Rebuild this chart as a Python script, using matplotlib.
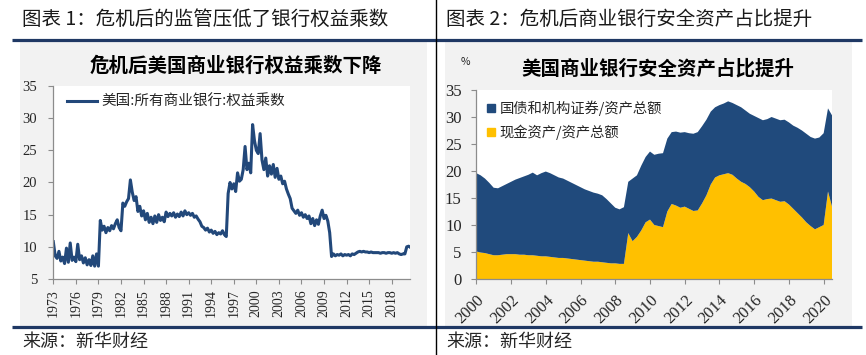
import numpy as np
import matplotlib
matplotlib.use('Agg')
import matplotlib.pyplot as plt
import matplotlib.patches as mpatches
from matplotlib.lines import Line2D

plt.rcParams['font.family'] = ['Noto Sans CJK SC', 'DejaVu Sans']

PX_W, PX_H = 866, 355
DPI = 100

# ── Palette ──────────────────────────────────────────────────────────────────
NAVY      = '#1f3864'   # rules under titles / above source
LINE_BLUE = '#22487a'   # leverage line
AREA_BLUE = '#204a7c'   # securities area
GOLD      = '#ffc000'   # cash area
PANEL     = '#f2f2f2'   # gray chart panel
AXIS_GRAY = '#8c8c8c'
TXT       = '#262626'
TICK_FONT = ['Liberation Serif', 'DejaVu Serif']

# ── Data: chart 1, equity multiplier, quarterly from 1973 ────────────────────
lev_start, lev_step = 1973.0, 0.25
leverage = [
    10.8, 8.6, 8.2, 9.3,    7.8, 8.4, 7.4, 9.8,     7.6, 10.6, 7.9, 8.4,
    7.7, 10.4, 8.0, 8.6,    7.5, 8.3, 7.2, 8.0,     7.1, 8.6, 7.0, 8.9,
    7.0, 14.1, 12.6, 13.2,  12.2, 13.0, 12.5, 13.3, 12.8, 13.6, 14.2, 13.0,
    12.5, 16.8, 16.3, 17.0, 17.5, 20.4, 18.5, 17.2, 17.8, 15.5, 16.3, 14.8,
    15.6, 14.2, 15.2, 13.8, 14.6, 13.6, 14.8, 13.8, 15.0, 14.1, 14.6, 13.9,
    15.4, 14.7, 15.2, 14.8, 15.3, 14.6, 15.1, 14.7, 15.4, 14.8, 15.6, 15.0,
    15.3, 14.9, 15.2, 14.6, 14.8, 14.3, 13.9, 13.2, 13.0, 12.6, 12.9, 12.3,
    12.6, 12.1, 12.4, 11.9, 12.2, 12.0, 12.5, 11.9, 11.6, 18.3, 20.0, 19.0,
    19.8, 18.6, 21.5, 20.2, 20.5, 22.0, 25.6, 22.0, 23.0, 21.5, 29.0, 26.5,
    25.0, 24.5, 27.6, 23.5, 22.0, 23.8, 21.0, 22.6, 21.3, 22.8, 20.8, 22.2,
    20.5, 21.0, 19.8, 20.2, 19.0, 18.2, 17.5, 16.0, 15.6, 15.2, 15.7, 14.9,
    15.3, 14.6, 15.0, 14.4, 14.8, 13.6, 14.4, 13.3, 14.2, 13.5, 14.8, 15.7,
    14.4, 14.9, 14.0, 12.2, 8.5, 8.9, 8.6, 8.8,     8.7, 8.9, 8.6, 8.8,
    8.7, 8.8, 8.6, 8.9,     8.8, 9.0, 9.2, 9.3,     9.2, 9.3, 9.2, 9.2,
    9.1, 9.2, 9.1, 9.1,     9.1, 9.1, 9.0, 9.1,     9.1, 9.0, 9.1, 9.1,
    9.0, 9.1, 9.0, 9.1,     8.9, 8.8, 8.9, 8.9,     10.0, 10.1, 9.9,
]
lev_label = '美国:所有商业银行:权益乘数'
lev_xticks = list(range(1973, 2019, 3))

# ── Data: chart 2, safe-asset shares (%), quarterly from 2000 ────────────────
safe_start, safe_step = 2000.0, 0.25
cash_share = [
    5.1, 4.9, 4.8, 4.6,   4.4, 4.4, 4.5, 4.6,   4.6, 4.6, 4.5, 4.5,
    4.4, 4.4, 4.3, 4.2,   4.2, 4.1, 4.0, 3.9,   3.9, 3.8, 3.7, 3.6,
    3.5, 3.4, 3.3, 3.2,   3.2, 3.1, 3.0, 2.9,   2.9, 2.8, 2.8, 8.5,
    7.0, 7.8, 9.0, 10.5,  11.0, 10.0, 9.8, 9.6, 12.5, 13.9, 13.6, 13.2,
    13.4, 13.0, 12.6, 12.7, 14.0, 15.5, 17.5, 18.8, 19.2, 19.4, 19.6, 19.3,
    18.6, 18.0, 17.6, 17.0, 16.2, 15.2, 14.6, 14.8, 14.9, 14.6, 14.3, 14.4,
    13.8, 13.0, 12.2, 11.4, 10.5, 9.8, 9.2, 9.6,  10.0, 16.2, 13.2,
]
sec_share = [
    14.5, 14.3, 13.8, 13.2, 12.5, 12.4, 12.7, 13.0, 13.4, 13.8, 14.2, 14.5,
    14.9, 15.3, 14.9, 15.4, 15.7, 15.5, 15.2, 14.9, 14.7, 14.4, 14.1, 13.8,
    13.5, 13.2, 13.0, 12.8, 12.6, 12.4, 11.8, 11.1, 10.3, 10.1, 10.5, 9.5,
    11.6, 11.4, 12.0, 12.1, 12.6, 13.0, 13.4, 13.7, 13.5, 13.3, 13.7, 13.9,
    13.8, 14.0, 14.3, 14.5, 14.3, 14.0, 13.5, 13.0, 13.0, 13.1, 13.3, 13.3,
    13.6, 13.8, 13.6, 13.6, 14.0, 14.6, 14.8, 14.8, 15.1, 15.1, 15.1, 15.1,
    15.2, 15.4, 15.8, 16.1, 16.4, 16.5, 16.8, 16.6, 17.0, 15.4, 17.0,
]
sec_label = '国债和机构证券/资产总额'
cash_label = '现金资产/资产总额'
safe_xticks = list(range(2000, 2021, 2))


def px_axes(fig, x0, y0, x1, y1):
    """Axes placed by pixel box (top-left origin)."""
    return fig.add_axes([x0 / PX_W, 1 - y1 / PX_H, (x1 - x0) / PX_W, (y1 - y0) / PX_H])


def style_axes(ax, labelsize):
    ax.set_facecolor('white')
    for s in ('top', 'right'):
        ax.spines[s].set_visible(False)
    for s in ('left', 'bottom'):
        ax.spines[s].set_color(AXIS_GRAY)
        ax.spines[s].set_linewidth(0.9)
    ax.tick_params(direction='out', length=3.5, width=0.8, color=AXIS_GRAY,
                   labelsize=labelsize, labelcolor=TXT)


fig = plt.figure(figsize=(PX_W / DPI, PX_H / DPI), dpi=DPI)
fig.patch.set_facecolor('white')

# background canvas in pixel coords
bg = fig.add_axes([0, 0, 1, 1])
bg.set_xlim(0, PX_W)
bg.set_ylim(PX_H, 0)
bg.axis('off')
bg.add_patch(mpatches.Rectangle((20, 42), 407, 284, fc=PANEL, ec='none'))
bg.add_patch(mpatches.Rectangle((445, 42), 407, 284, fc=PANEL, ec='none'))
bg.plot([12, 862], [40, 40], color=NAVY, lw=2.3, solid_capstyle='butt')
bg.plot([12, 862], [327, 327], color=NAVY, lw=2.3, solid_capstyle='butt')
bg.plot([436, 436], [0, 355], color='black', lw=1.0)

bg.text(22, 19, '图表 1：危机后的监管压低了银行权益乘数', fontsize=14,
        ha='left', va='center', color='#1a1a1a')
bg.text(446, 19, '图表 2：危机后商业银行安全资产占比提升', fontsize=14,
        ha='left', va='center', color='#1a1a1a')
bg.text(236, 66, '危机后美国商业银行权益乘数下降', fontsize=14, fontweight='bold',
        ha='center', va='center', color='black')
bg.text(658, 69, '美国商业银行安全资产占比提升', fontsize=14, fontweight='bold',
        ha='center', va='center', color='black')
bg.text(465, 62, '%', fontsize=7.5, ha='center', va='center', color=TXT)
bg.text(22, 342, '来源：新华财经', fontsize=13, ha='left', va='center', color=TXT)
bg.text(446, 342, '来源：新华财经', fontsize=13, ha='left', va='center', color=TXT)

# ── Chart 1: equity multiplier line ──────────────────────────────────────────
ax1 = px_axes(fig, 53.3, 86, 410, 279)
style_axes(ax1, 10.5)
lev_x = lev_start + lev_step * np.arange(len(leverage))
ax1.plot(lev_x, leverage, color=LINE_BLUE, lw=2.2, solid_joinstyle='round')
ax1.set_xlim(1973, 2020.43)
ax1.set_ylim(5, 35)
ax1.set_yticks(range(5, 36, 5), labels=[str(v) for v in range(5, 36, 5)],
               fontfamily=TICK_FONT)
ax1.set_xticks(lev_xticks, labels=[str(v) for v in lev_xticks], rotation=90,
               fontfamily=TICK_FONT, fontsize=10)
ax1.tick_params(axis='y', pad=8)
ax1.tick_params(axis='x', pad=4)
ax1.legend([Line2D([], [], color=LINE_BLUE, lw=2.2)], [lev_label],
           loc='center left', bbox_to_anchor=(0.038, 0.919), frameon=False,
           fontsize=10.5, handlelength=2.1, handletextpad=0.3, borderpad=0,
           borderaxespad=0, labelcolor=TXT)

# ── Chart 2: stacked safe-asset shares ───────────────────────────────────────
ax2 = px_axes(fig, 476.3, 90, 832, 279)
style_axes(ax2, 12)
safe_x = safe_start + safe_step * np.arange(len(cash_share))
ax2.stackplot(safe_x, cash_share, sec_share, colors=[GOLD, AREA_BLUE], lw=0)
ax2.set_xlim(2000, 2020.48)
ax2.set_ylim(0, 35)
ax2.set_yticks(range(0, 36, 5), labels=[str(v) for v in range(0, 36, 5)],
               fontfamily=TICK_FONT)
ax2.set_xticks(safe_xticks, labels=[str(v) for v in safe_xticks], rotation=45,
               ha='right', rotation_mode='anchor', fontfamily=TICK_FONT)
ax2.tick_params(axis='y', pad=7)
ax2.tick_params(axis='x', pad=6)
ax2.legend([mpatches.Patch(color=AREA_BLUE), mpatches.Patch(color=GOLD)],
           [sec_label, cash_label], loc='center left',
           bbox_to_anchor=(0.030, 0.839), frameon=False, fontsize=10.3,
           handlelength=0.55, handleheight=0.55, handletextpad=0.35,
           labelspacing=0.6, borderpad=0, borderaxespad=0, labelcolor=TXT)

fig.savefig('out.png', dpi=DPI, facecolor='white')
